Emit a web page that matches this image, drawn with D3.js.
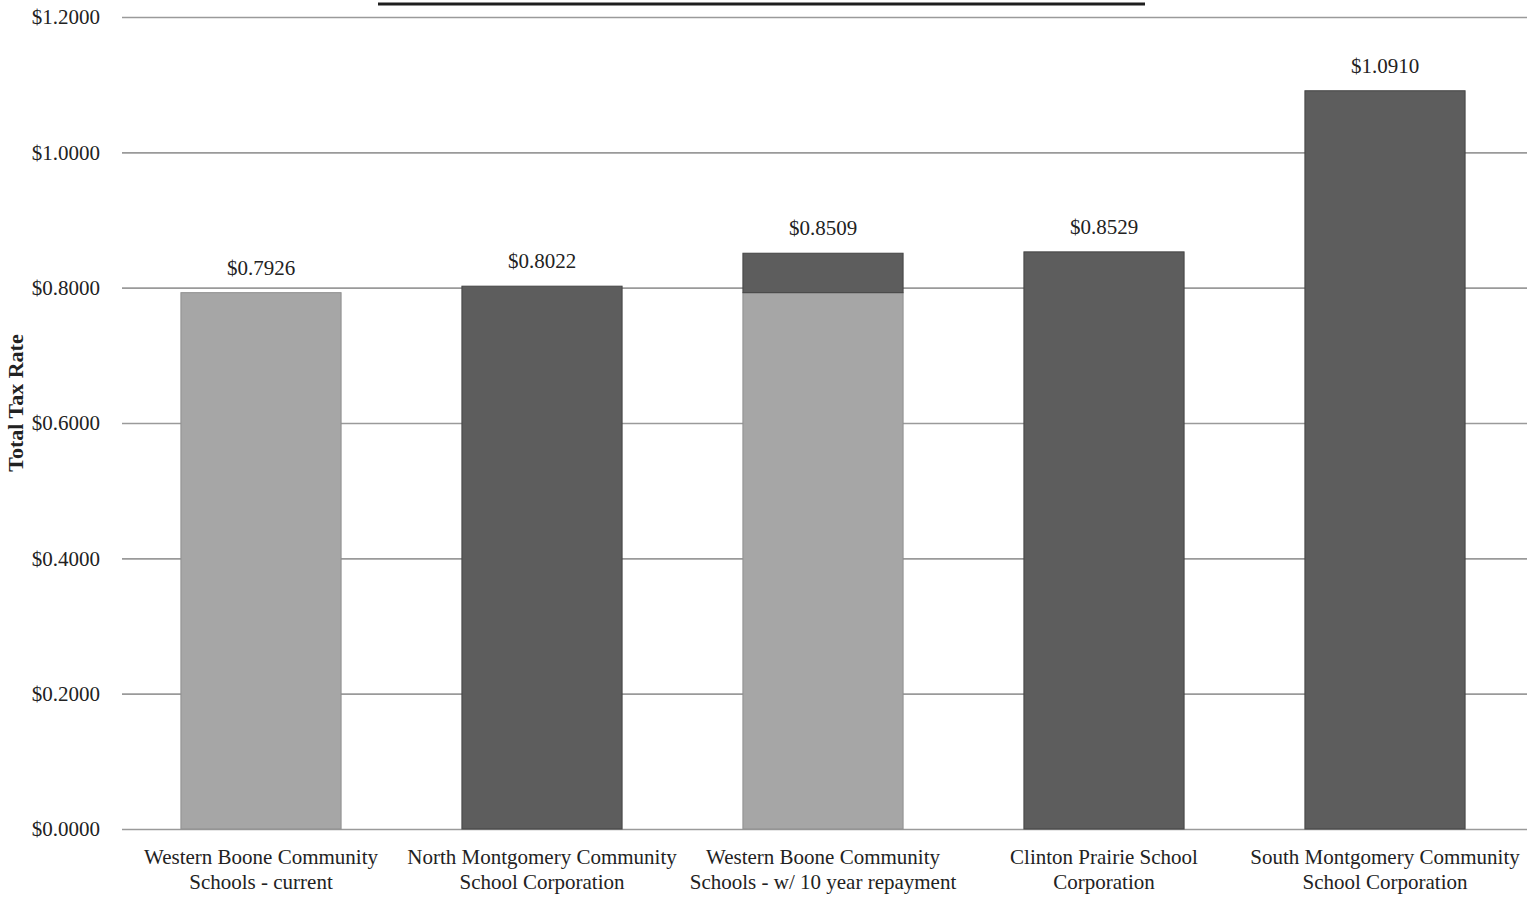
<!DOCTYPE html>
<html>
<head>
<meta charset="utf-8">
<script src="https://cdn.jsdelivr.net/npm/d3@7"></script>
<style>
  body { margin: 0; background: #fff; }
  svg { display: block; }
  text { font-family: "Liberation Serif", "Times New Roman", serif; fill: #222; }
</style>
</head>
<body>
<svg id="chart" width="1536" height="899"></svg>
<script>
// school corporations, two label lines each
var categories = [
  ["Western Boone Community", "Schools - current"],
  ["North Montgomery Community", "School Corporation"],
  ["Western Boone Community", "Schools - w/ 10 year repayment"],
  ["Clinton Prairie School", "Corporation"],
  ["South Montgomery Community", "School Corporation"]
]
var currentRate = [0.7926, 0, 0.7926, 0, 0]       // light grey part
var otherRate = [0, 0.8022, 0.0583, 0.8529, 1.0910] // dark grey part
var totalLabels = ["$0.7926", "$0.8022", "$0.8509", "$0.8529", "$1.0910"]
var yTicks = [0, 0.2, 0.4, 0.6, 0.8, 1.0, 1.2]

var svg = d3.select("#chart")
var plotLeft = 122, plotRight = 1527, plotTop = 17, plotBottom = 829

var x = d3.scaleBand()
  .domain(d3.range(categories.length))
  .range([plotLeft - 1.5, plotRight - 1.5])
  .paddingInner(0.43)
  .paddingOuter(0.215)

var y = d3.scaleLinear().domain([0, 1.2]).range([plotBottom, plotTop])

// title underline (title itself is cut off at the top of the page)
svg.append("line")
  .attr("x1", 378).attr("x2", 1145)
  .attr("y1", 4).attr("y2", 4)
  .attr("stroke", "#1e1e1e").attr("stroke-width", 3)

// gridlines + tick labels
var yAxis = d3.axisLeft(y)
  .tickValues(yTicks)
  .tickSize(-(plotRight - plotLeft))
  .tickPadding(22)
  .tickFormat(function(d) { return "$" + d.toFixed(4) })

var ga = svg.append("g")
  .attr("transform", "translate(" + plotLeft + ",0)")
  .call(yAxis)
ga.select(".domain").remove()
ga.selectAll(".tick line").attr("stroke", "#9a9a9a").attr("stroke-width", 1.6)
ga.selectAll(".tick text")
  .style("font-family", '"Liberation Serif", serif')
  .style("font-size", "21px")
  .attr("fill", "#333")

// stacked bars
var rows = categories.map(function(c, i) {
  return { i: i, current: currentRate[i], other: otherRate[i] }
})
var stack = d3.stack().keys(["current", "other"])(rows)
var fills = { current: "#a6a6a6", other: "#5d5d5d" }
var strokes = { current: "#8f8f8f", other: "#444" }

svg.append("g").selectAll("g")
  .data(stack)
  .enter().append("g")
  .attr("fill", function(s) { return fills[s.key] })
  .attr("stroke", function(s) { return strokes[s.key] })
  .selectAll("rect")
  .data(function(s) { return s.filter(function(d) { return d[1] - d[0] > 0 }) })
  .enter().append("rect")
  .attr("x", function(d) { return x(d.data.i) })
  .attr("width", x.bandwidth())
  .attr("y", function(d) { return y(d[1]) })
  .attr("height", function(d) { return y(d[0]) - y(d[1]) })
  .attr("stroke-width", 1)

// value labels above bars
svg.append("g").selectAll("text")
  .data(rows)
  .enter().append("text")
  .attr("x", function(d) { return x(d.i) + x.bandwidth() / 2 })
  .attr("y", function(d) { return y(d.current + d.other) - 18 })
  .attr("text-anchor", "middle")
  .style("font-size", "21px")
  .attr("fill", "#333")
  .text(function(d, i) { return totalLabels[i] })

// category labels
var cl = svg.append("g").selectAll("text")
  .data(categories)
  .enter().append("text")
  .attr("text-anchor", "middle")
  .attr("transform", function(d, i) {
    return "translate(" + (x(i) + x.bandwidth() / 2) + ",864)"
  })
  .style("font-size", "21px")
cl.append("tspan").attr("x", 0).attr("y", 0).text(function(d) { return d[0] })
cl.append("tspan").attr("x", 0).attr("y", 25).text(function(d) { return d[1] })

// y axis title
svg.append("text")
  .attr("transform", "translate(23,403) rotate(-90)")
  .attr("text-anchor", "middle")
  .style("font-size", "22px")
  .style("font-weight", "bold")
  .text("Total Tax Rate")
</script>
</body>
</html>
